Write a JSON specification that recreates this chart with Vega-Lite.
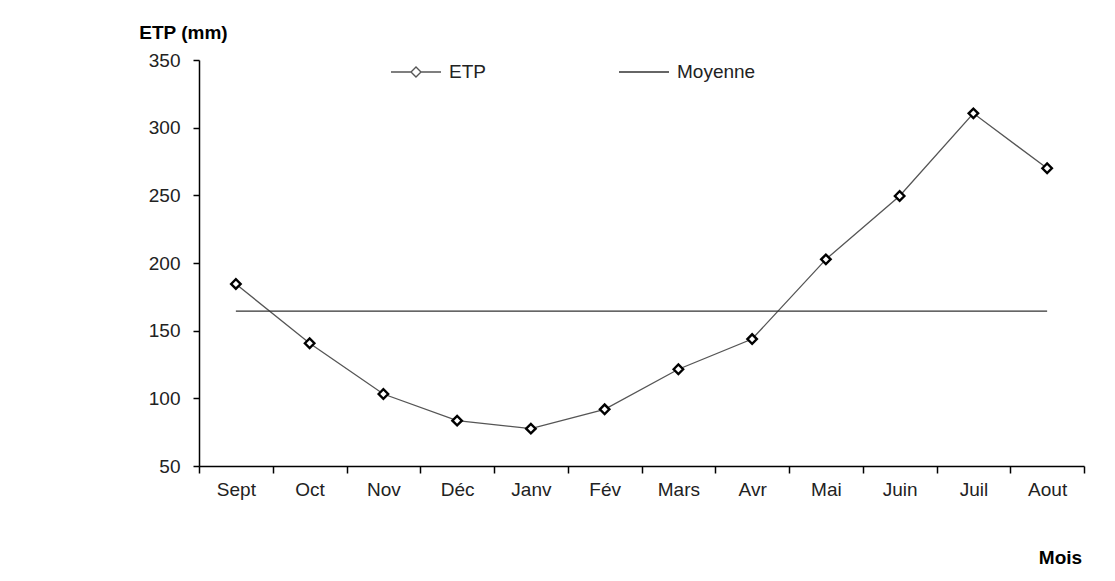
{
  "$schema": "https://vega.github.io/schema/vega-lite/v6.json",
  "width": 885,
  "height": 406,
  "autosize": {"type": "none"},
  "padding": {"left": 199, "top": 60, "right": 31, "bottom": 115},
  "background": "#ffffff",
  "config": {
    "view": {"stroke": null},
    "font": "Liberation Sans",
    "axis": {"labelFont": "Liberation Sans", "titleFont": "Liberation Sans"},
    "legend": {"labelFont": "Liberation Sans"}
  },
  "data": {
    "values": [
      {"mois": "Sept", "valeur": 184.5, "serie": "ETP"},
      {"mois": "Oct", "valeur": 140.7, "serie": "ETP"},
      {"mois": "Nov", "valeur": 103.2, "serie": "ETP"},
      {"mois": "Déc", "valeur": 83.5, "serie": "ETP"},
      {"mois": "Janv", "valeur": 77.6, "serie": "ETP"},
      {"mois": "Fév", "valeur": 91.9, "serie": "ETP"},
      {"mois": "Mars", "valeur": 121.5, "serie": "ETP"},
      {"mois": "Avr", "valeur": 143.8, "serie": "ETP"},
      {"mois": "Mai", "valeur": 202.7, "serie": "ETP"},
      {"mois": "Juin", "valeur": 249.5, "serie": "ETP"},
      {"mois": "Juil", "valeur": 310.6, "serie": "ETP"},
      {"mois": "Aout", "valeur": 270.0, "serie": "ETP"},
      {"mois": "Sept", "valeur": 164.5, "serie": "Moyenne"},
      {"mois": "Oct", "valeur": 164.5, "serie": "Moyenne"},
      {"mois": "Nov", "valeur": 164.5, "serie": "Moyenne"},
      {"mois": "Déc", "valeur": 164.5, "serie": "Moyenne"},
      {"mois": "Janv", "valeur": 164.5, "serie": "Moyenne"},
      {"mois": "Fév", "valeur": 164.5, "serie": "Moyenne"},
      {"mois": "Mars", "valeur": 164.5, "serie": "Moyenne"},
      {"mois": "Avr", "valeur": 164.5, "serie": "Moyenne"},
      {"mois": "Mai", "valeur": 164.5, "serie": "Moyenne"},
      {"mois": "Juin", "valeur": 164.5, "serie": "Moyenne"},
      {"mois": "Juil", "valeur": 164.5, "serie": "Moyenne"},
      {"mois": "Aout", "valeur": 164.5, "serie": "Moyenne"}
    ]
  },
  "encoding": {
    "x": {
      "field": "mois",
      "type": "nominal",
      "sort": null,
      "scale": {"type": "band", "paddingInner": 0, "paddingOuter": 0},
      "axis": {
        "title": "Mois",
        "titleFontSize": 19,
        "titleFontWeight": "bold",
        "titleColor": "#000000",
        "titleAngle": 0,
        "titleAnchor": null,
        "titleAlign": "center",
        "titleBaseline": "middle",
        "titleX": 861,
        "titleY": 91,
        "labelAngle": 0,
        "labelFontSize": 19,
        "labelColor": "#222222",
        "labelPadding": 7,
        "tickBand": "extent",
        "tickSize": 7,
        "tickColor": "#000000",
        "domainColor": "#000000",
        "domainWidth": 1.5,
        "tickWidth": 1.5,
        "grid": false
      }
    },
    "y": {
      "field": "valeur",
      "type": "quantitative",
      "scale": {"domain": [50, 350], "nice": false, "zero": false},
      "axis": {
        "title": "ETP (mm)",
        "titleFontSize": 19,
        "titleFontWeight": "bold",
        "titleColor": "#000000",
        "titleAngle": 0,
        "titleAnchor": null,
        "titleAlign": "center",
        "titleBaseline": "middle",
        "titleX": -16,
        "titleY": -28,
        "values": [50, 100, 150, 200, 250, 300, 350],
        "labelFontSize": 19,
        "labelColor": "#222222",
        "labelPadding": 13,
        "tickSize": 6,
        "tickColor": "#000000",
        "domainColor": "#000000",
        "domainWidth": 1.5,
        "tickWidth": 1.5,
        "grid": false
      }
    }
  },
  "layer": [
    {
      "mark": {"type": "line", "strokeWidth": 1.3},
      "encoding": {
        "color": {
          "field": "serie",
          "type": "nominal",
          "scale": {"domain": ["ETP", "Moyenne"], "range": ["#555555", "#333333"]},
          "legend": {
            "title": null,
            "orient": "none",
            "direction": "horizontal",
            "legendX": 191,
            "legendY": -14,
            "padding": 0,
            "symbolSize": 2500,
            "symbolStrokeWidth": 1.4,
            "symbolFillColor": "#ffffff",
            "labelFontSize": 19,
            "labelColor": "#222222",
            "labelOffset": 7,
            "columnPadding": 130,
            "encode": {
              "symbols": {
                "update": {
                  "shape": {"signal": "datum.value === 'ETP' ? 'M-1,0H-0.2M0.2,0H1M0,-0.2L0.2,0L0,0.2L-0.2,0Z' : 'M-1,0H1'"},
                  "fill": {"value": "#ffffff"},
                  "stroke": {"value": "#444444"}
                }
              }
            }
          }
        }
      }
    },
    {
      "transform": [{"filter": "datum.serie === 'ETP'"}],
      "mark": {
        "type": "point",
        "shape": "diamond",
        "size": 90,
        "filled": true,
        "fill": "#ffffff",
        "stroke": "#000000",
        "strokeWidth": 2.4,
        "opacity": 1
      }
    }
  ]
}
